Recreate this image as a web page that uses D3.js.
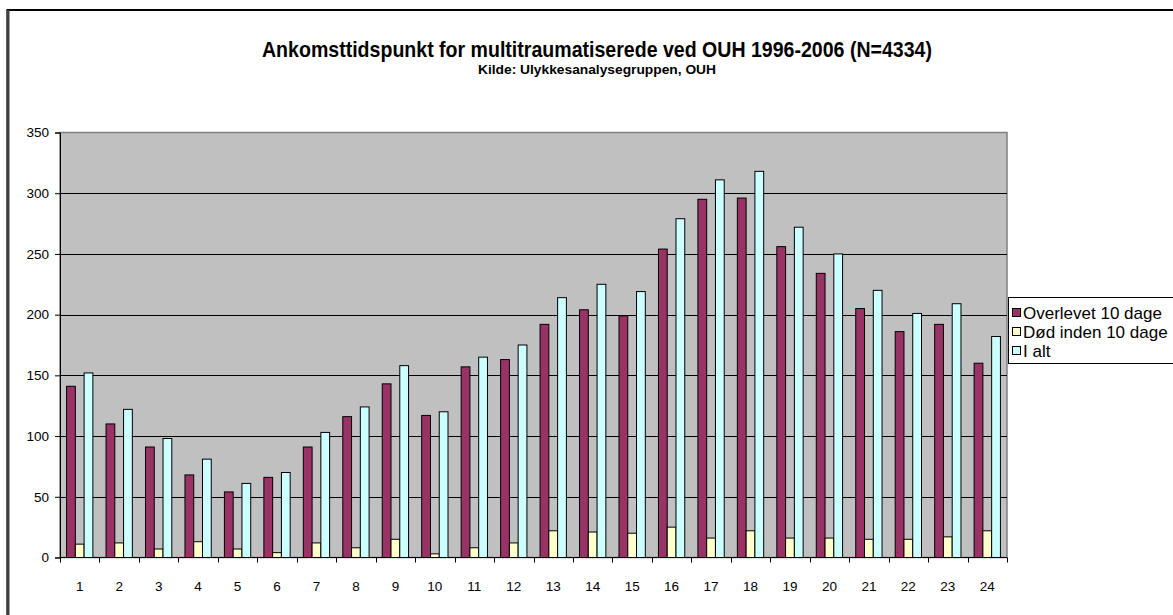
<!DOCTYPE html>
<html>
<head>
<meta charset="utf-8">
<script src="https://cdn.jsdelivr.net/npm/d3@7"></script>
<style>
  body { margin: 0; background: #fff; }
  svg { display: block; }
</style>
</head>
<body>
<svg width="1173" height="615"></svg>
<script>
// hours of arrival, 1..24
const hours = d3.range(1, 25).map(String);

// values
const overlevet = [141, 110, 91, 68, 54, 66, 91, 116, 143, 117, 157, 163, 192, 204, 199, 254, 295, 296, 256, 234, 205, 186, 192, 160];
const doed = [11, 12, 7, 13, 7, 4, 12, 8, 15, 3, 8, 12, 22, 21, 20, 25, 16, 22, 16, 16, 15, 15, 17, 22];
const ialt = [152, 122, 98, 81, 61, 70, 103, 124, 158, 120, 165, 175, 214, 225, 219, 279, 311, 318, 272, 250, 220, 201, 209, 182];

const seriesNames = ["Overlevet 10 dage", "Død inden 10 dage", "I alt"];
const colors = ["#993366", "#FFFFCC", "#CCFFFF"];
const yTicks = [0, 50, 100, 150, 200, 250, 300, 350];

const svg = d3.select("svg");

// outer chart frame (only top/left visible in the picture)
svg.append("rect")
  .attr("x", 7.5).attr("y", 10)
  .attr("width", 1200).attr("height", 700)
  .attr("fill", "#fff")
  .attr("stroke", "#000").attr("stroke-width", 2);
svg.append("line")
  .attr("x1", 8).attr("x2", 8).attr("y1", 10).attr("y2", 615)
  .attr("stroke", "#404040").attr("stroke-width", 3);

// titles (condensed like the original Arial Narrow look)
svg.append("text")
  .attr("x", 597).attr("y", 57)
  .attr("text-anchor", "middle")
  .attr("textLength", 670)
  .attr("lengthAdjust", "spacingAndGlyphs")
  .style("font-family", "'Liberation Sans', Arial, sans-serif")
  .style("font-weight", "bold")
  .style("font-size", "22px")
  .text("Ankomsttidspunkt for multitraumatiserede ved OUH 1996-2006 (N=4334)");

svg.append("text")
  .attr("x", 597).attr("y", 74)
  .attr("text-anchor", "middle")
  .attr("textLength", 238)
  .attr("lengthAdjust", "spacingAndGlyphs")
  .style("font-family", "'Liberation Sans', Arial, sans-serif")
  .style("font-weight", "bold")
  .style("font-size", "12px")
  .text("Kilde: Ulykkesanalysegruppen, OUH");

// plot area
const plotLeft = 60, plotRight = 1007, plotTop = 132.5, plotBottom = 557.5;

const x = d3.scaleBand()
  .domain(hours)
  .range([plotLeft, plotRight])
  .paddingInner(0).paddingOuter(0);

// Excel gap width 150%: 3 bars + 1.5 bar widths gap
const barW = x.bandwidth() / 4.5;
const x1 = d3.scaleBand()
  .domain(d3.range(3))
  .range([barW * 0.75, barW * 3.75]);

const y = d3.scaleLinear()
  .domain([0, 350])
  .range([plotBottom, plotTop]);

svg.append("rect")
  .attr("x", plotLeft).attr("y", plotTop)
  .attr("width", plotRight - plotLeft).attr("height", plotBottom - plotTop)
  .attr("fill", "#C0C0C0")
  .attr("stroke", "#808080").attr("stroke-width", 1.5);

// gridlines
svg.append("g")
  .selectAll("line")
  .data(yTicks.filter(d => d > 0 && d < 350))
  .join("line")
  .attr("x1", plotLeft).attr("x2", plotRight)
  .attr("y1", d => Math.round(y(d)) + 0.5)
  .attr("y2", d => Math.round(y(d)) + 0.5)
  .attr("stroke", "#000").attr("stroke-width", 1);

// bars
const data = hours.map((h, i) => ({ hour: h, values: [overlevet[i], doed[i], ialt[i]] }));

const groups = svg.append("g")
  .selectAll("g")
  .data(data)
  .join("g")
  .attr("transform", d => `translate(${x(d.hour)},0)`);

groups.selectAll("rect")
  .data(d => d.values)
  .join("rect")
  .attr("x", (d, i) => x1(i))
  .attr("y", d => y(d))
  .attr("width", x1.bandwidth())
  .attr("height", d => plotBottom - y(d))
  .attr("fill", (d, i) => colors[i])
  .attr("stroke", "#000").attr("stroke-width", 1);

// y axis
const yAxis = svg.append("g")
  .attr("transform", `translate(${plotLeft},0)`)
  .call(d3.axisLeft(y).tickValues(yTicks).tickSize(5).tickPadding(6));
yAxis.select(".domain").attr("stroke", "#000");
yAxis.selectAll("text")
  .style("font-family", "'Liberation Sans', Arial, sans-serif")
  .style("font-size", "13.5px")
  .attr("fill", "#000");

// x axis: ticks between categories
const xAxis = svg.append("g")
  .attr("transform", `translate(0,${plotBottom})`);
xAxis.append("line")
  .attr("x1", plotLeft).attr("x2", plotRight)
  .attr("stroke", "#000");
xAxis.selectAll("line.tick")
  .data(d3.range(25))
  .join("line")
  .attr("class", "tick")
  .attr("x1", i => Math.round(plotLeft + i * x.bandwidth()) + 0.5)
  .attr("x2", i => Math.round(plotLeft + i * x.bandwidth()) + 0.5)
  .attr("y1", 0).attr("y2", 5)
  .attr("stroke", "#000");
xAxis.selectAll("text")
  .data(hours)
  .join("text")
  .attr("x", d => x(d) + x.bandwidth() / 2)
  .attr("y", 33)
  .attr("text-anchor", "middle")
  .style("font-family", "'Liberation Sans', Arial, sans-serif")
  .style("font-size", "13.5px")
  .text(d => d);

// legend
const legend = svg.append("g").attr("transform", "translate(1008,297)");
legend.append("rect")
  .attr("x", 0.5).attr("y", 0.5)
  .attr("width", 200).attr("height", 66)
  .attr("fill", "#fff")
  .attr("stroke", "#000").attr("stroke-width", 1);

const items = legend.selectAll("g.item")
  .data(seriesNames)
  .join("g")
  .attr("class", "item")
  .attr("transform", (d, i) => `translate(4,${16 + i * 19})`);
items.append("rect")
  .attr("x", 0.5).attr("y", -4.5)
  .attr("width", 8).attr("height", 8)
  .attr("fill", (d, i) => colors[i])
  .attr("stroke", "#000");
items.append("text")
  .attr("x", 11).attr("y", 6)
  .style("font-family", "'Liberation Sans', Arial, sans-serif")
  .style("font-size", "17px")
  .text(d => d);
</script>
</body>
</html>
